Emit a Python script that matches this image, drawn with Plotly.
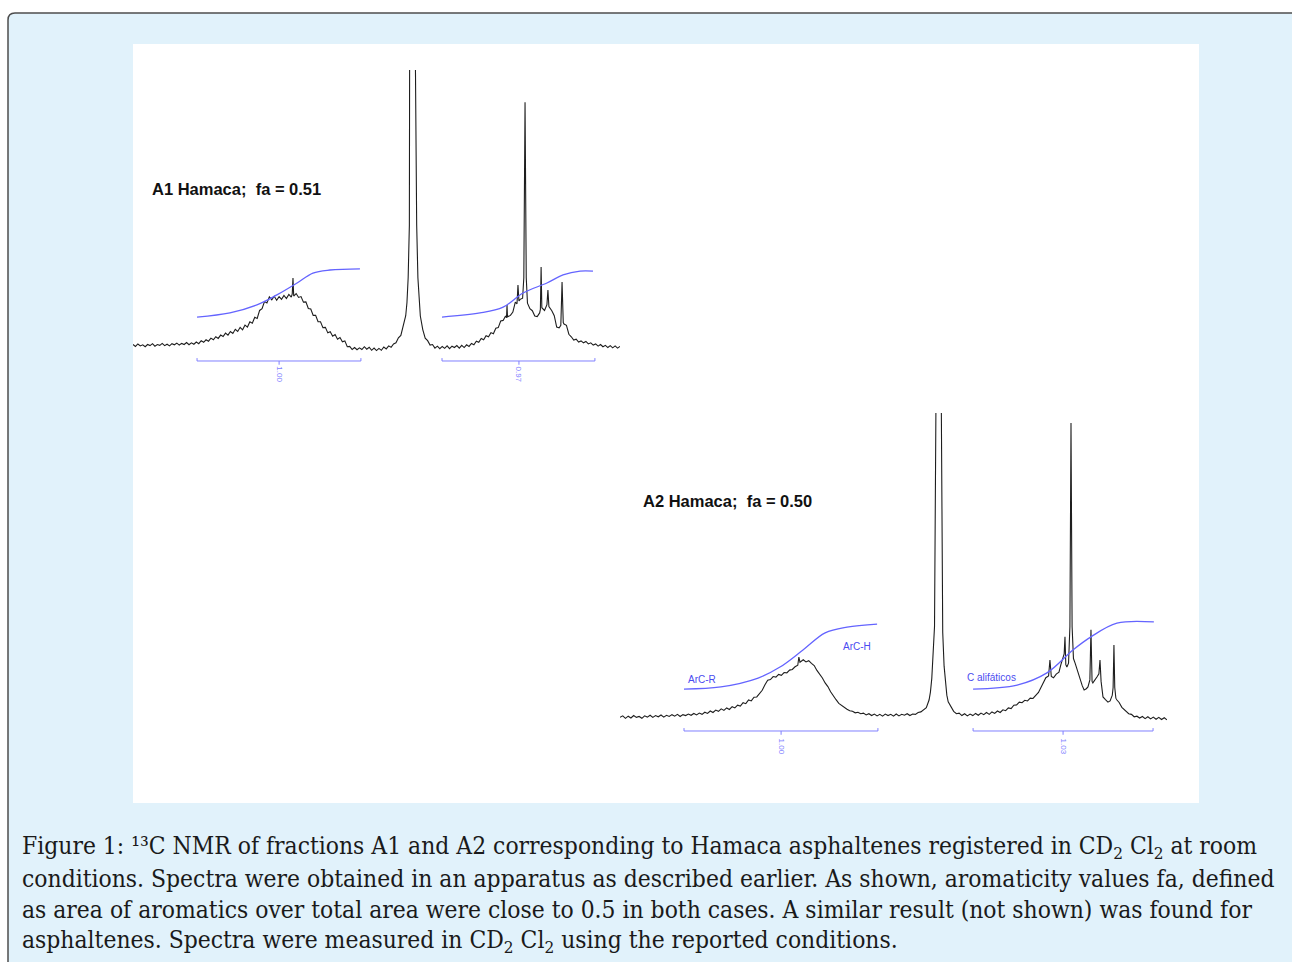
import plotly.graph_objects as go

# the page margin is removed in the page script, so the figure covers the whole 1292x962 window
W, H = 1292, 962
OX, OY = 0, 0


def fx(px):
    return (px - OX) / W


def fy(py):
    return 1 - (py - OY) / H


# ---------------- data ----------------
# Spectrum A1 (chemical shift in ppm, intensity in arbitrary units)
A1_ppm = [200, 199, 198, 197, 196, 195, 194, 193, 192, 191, 190, 189, 188, 187, 186, 185, 184, 183, 182, 181,
          180, 179, 178, 177, 176, 175, 174, 173, 172, 171, 170, 169, 168, 167, 166, 165, 164, 163, 162, 161,
          160, 159, 158, 157, 156, 155, 154, 153, 152, 151, 150, 149, 148, 147, 146, 145, 144, 143, 142, 141,
          140, 139, 138, 137, 136, 135, 134.6, 134.3, 134.0, 133, 132, 131, 130, 129, 128, 127, 126, 125, 124,
          123, 122, 121, 120, 119, 118, 117, 116, 115, 114, 113, 112, 111, 110, 109, 108, 107, 106, 105, 104,
          103, 102, 101, 100, 99, 98, 97, 96, 95, 94, 93, 92, 91, 90, 89, 88, 87.5, 87, 86.5, 86, 85.5, 85,
          84.5, 84, 83.5, 83, 82.5, 82, 81, 80, 79, 78, 77, 76, 75, 74, 73, 72, 71, 70, 69, 68, 67, 66, 65,
          64, 63, 62, 61, 60, 59, 58, 57, 56, 55, 54, 53, 52, 51, 50, 49, 48, 47, 46.6, 46.4, 46.2, 45, 44,
          43, 42.3, 41.9, 41.5, 41, 40, 39.5, 39.0, 38.5, 38, 37, 36, 35, 34, 33, 32.7, 32.4, 32.1, 31, 30,
          29.6, 29.2, 28, 27, 26, 25, 24.3, 23.8, 23.3, 23, 22, 21, 20, 19, 18, 17, 16, 15, 14, 13, 12, 11,
          10, 9, 8, 7, 6, 5, 4, 3, 2, 1, 0]
A1_int = [0.9, 0.2, 1.1, 0.4, 0.8, 0.1, 0.9, 0.5, 1.2, 0.3, 0.9, 0.6, 1.3, 0.5, 1.0, 0.4, 1.2, 0.8, 1.4, 0.7,
          1.3, 0.9, 1.6, 0.8, 1.5, 1.0, 1.8, 1.2, 2.3, 1.7, 2.6, 2.1, 3.2, 2.6, 3.7, 3.1, 4.3, 3.8, 5.0, 4.3,
          5.6, 4.9, 6.4, 5.6, 7.1, 6.2, 7.9, 7.2, 9.1, 8.6, 10.7, 10.3, 13.2, 13.8, 16.4, 15.9, 18.1, 17.0, 18.3, 16.9,
          18.2, 17.2, 18.6, 17.5, 19.0, 18.0, 19.2, 24.9, 18.4, 19.3, 17.9, 18.2, 16.2, 16.3, 13.9, 13.7, 11.4, 11.4, 9.1,
          9.1, 7.0, 7.1, 5.1, 5.5, 3.9, 4.5, 2.8, 3.4, 1.9, 2.2, 0.1, 0.2, -0.9, -0.2, -1.0, -0.3, -0.9, 0.1, -0.8,
          -0.1, -1.2, -0.4, -1.3, -0.5, -1.2, 0.0, -0.7, 0.4, -0.1, 1.1, 1.5, 3.3, 4.2, 7.6, 11.3, 16, 25, 44, 100, 400, 900,
          400, 100, 44, 25, 16, 11.2, 6.3, 3.2, 2.3, 0.7, 0.9, -0.4, 0.3, -0.6, 0.2, -0.5, 0.4, -0.6, 0.3, -0.2, 0.5, -0.4, 0.6,
          -0.2, 0.8, 0.2, 1.3, 0.8, 2.1, 1.7, 3.1, 2.6, 4.1, 3.7, 5.2, 4.8, 6.8, 7.0, 9.4, 9.6, 11.2, 10.6, 15.2, 10.9, 11.4, 12.6,
          16.2, 15.6, 22.4, 16.6, 17.2, 17.6, 25, 88.4, 25, 15.8, 13.8, 13.1, 11.2, 11.0, 12.3, 13.6, 28.9, 14.2, 13.2, 15.3,
          20.6, 14.6, 13.1, 11.3, 7.2, 6.9, 7.8, 23.5, 8.8, 8.3, 7.8, 4.6, 3.7, 2.5, 2.8, 1.8, 2.2, 1.5, 2.0, 1.1, 1.5, 0.7,
          1.1, 0.3, 0.9, 0.1, 0.6, -0.2, 0.5, -0.3, 0.4, -0.4, 0.2]

# Spectrum A2
A2_ppm = [200, 199, 198, 197, 196, 195, 194, 193, 192, 191, 190, 189, 188, 187, 186, 185, 184, 183, 182, 181,
          180, 179, 178, 177, 176, 175, 174, 173, 172, 171, 170, 169, 168, 167, 166, 165, 164, 163, 162, 161,
          160, 159, 158, 157, 156, 155, 154, 153, 152, 151, 150, 149, 148, 147, 146, 145, 144, 143, 142, 141,
          140, 139, 138, 137, 136, 135.0, 134.6, 134.2, 133, 132, 131, 130, 129, 128, 127, 126, 125, 124, 123,
          122, 121, 120, 119, 118, 117, 116, 115, 114, 113, 112, 111, 110, 109, 108, 107, 106, 105, 104, 103,
          102, 101, 100, 99, 98, 97, 96, 95, 94, 93, 92, 91, 90, 89, 88, 87, 86.5, 86, 85.5, 85, 84.5, 84, 83.5,
          83, 82.5, 82, 81.5, 81, 80.5, 80, 79, 78, 77, 76, 75, 74, 73, 72, 71, 70, 69, 68, 67, 66, 65, 64, 63,
          62, 61, 60, 59, 58, 57, 56, 55, 54, 53, 52, 51, 50, 49, 48, 47, 46, 45, 44.3, 43.3, 42.8, 42.3, 41.5,
          40.5, 39.5, 38.8, 38.0, 37.6, 37.3, 37.0, 36.6, 36.0, 35.5, 35.1, 34.7, 34.2, 33.6, 33, 32, 31, 30.3,
          29.5, 28.9, 28.2, 27.8, 27.4, 27.1, 26.5, 26, 25.5, 24.9, 24.5, 24.1, 23.4, 22.5, 21.6, 20.8, 20, 19.7,
          19.4, 19.1, 18.7, 18.3, 17.5, 16.5, 15.4, 14, 13, 12, 11, 10, 9, 8, 7, 6, 5, 4, 3, 2, 1, 0]
A2_int = [0.2, 0.7, -0.1, 0.6, 0.0, 0.8, 0.2, 0.5, -0.1, 0.7, 0.3, 0.9, 0.2, 0.8, 0.4, 1.0, 0.3, 0.9, 0.5, 1.1,
          0.6, 1.2, 0.5, 1.1, 0.8, 1.3, 0.9, 1.5, 1.0, 1.6, 1.2, 1.9, 1.5, 2.3, 1.8, 2.6, 2.2, 3.0, 2.5, 3.3,
          2.8, 3.7, 3.3, 4.2, 3.9, 5.0, 4.7, 5.9, 5.6, 6.8, 6.9, 8.0, 9.1, 10.9, 12.4, 12.6, 13.6, 13.4, 14.3, 14.0,
          14.9, 14.8, 15.7, 15.9, 16.8, 17.3, 20.0, 18.3, 19.1, 18.4, 18.8, 17.9, 17.2, 15.6, 14.4, 13.1, 11.5, 10.3, 8.6,
          7.1, 6.0, 4.8, 4.1, 3.3, 2.9, 2.4, 2.2, 1.7, 1.9, 1.4, 1.6, 1.0, 1.4, 0.8, 1.3, 0.7, 1.2, 0.6, 1.3,
          0.8, 1.2, 0.6, 1.3, 0.7, 1.2, 0.9, 1.4, 0.8, 1.3, 1.2, 1.8, 2.0, 2.6, 3.4, 5.9, 8.5, 13, 20, 30, 100, 300, 900,
          300, 100, 28, 17, 11, 7.5, 5.3, 3.6, 2.2, 1.4, 1.6, 0.8, 1.4, 0.7, 1.3, 0.8, 1.5, 0.9, 1.6, 1.1, 1.8, 1.2, 2.0, 1.5,
          2.3, 1.8, 2.7, 2.4, 3.3, 3.1, 4.2, 4.3, 5.2, 5.0, 5.8, 5.6, 6.5, 6.4, 7.3, 8.4, 10.2, 11.8, 13.2, 13.8, 19.0, 13.6, 13.2,
          14.4, 15.0, 17.5, 20.0, 21.0, 26.6, 17.5, 16.7, 18.0, 30, 96.7, 30, 19.5, 18.0, 16.2, 13.6, 10.6, 9.2,
          9.6, 10.2, 12.5, 28.9, 12.0, 11.5, 12.2, 13.0, 13.6, 14.5, 19.0, 12, 6.9, 6.0, 5.2, 5.6, 7.5, 10,
          23.9, 10, 6.5, 5.9, 5.1, 3.5, 2.6, 1.4, 1.2, 0.4, 0.6, 0.0, 0.5, -0.2, 0.4, -0.3, 0.3, -0.4, 0.2, -0.5, 0.1, -0.6]

# Integral curves
A1_arom_int_ppm = [173.7, 160.2, 149.1, 140.9, 132.6, 126.1, 119.1, 106.8]
A1_arom_int_val = [10.8, 12.3, 15.2, 18.8, 23.1, 26.7, 27.8, 28.2]
A1_ali_int_ppm = [73.1, 57.5, 48.0, 39.8, 30.0, 23.4, 16.4, 11.1]
A1_ali_int_val = [10.8, 12.3, 14.4, 19.5, 23.1, 26.0, 27.4, 27.4]
A2_arom_int_ppm = [176.6, 163.1, 149.5, 141.5, 133.1, 125.0, 117.0, 106.0]
A2_arom_int_val = [9.5, 10.2, 13.1, 16.7, 22.3, 27.9, 29.8, 30.8]
A2_ali_int_ppm = [70.9, 54.8, 43.9, 34.4, 27.8, 18.3, 4.8]
A2_ali_int_val = [9.5, 10.8, 14.8, 22.3, 26.6, 31.1, 31.5]

# Integration ranges (start ppm, end ppm, centre ppm) and integral values
A1_ranges = [(173.7, 106.4, 140.0), (73.1, 10.3, 41.5)]
A1_values = ["1.00", "0.97"]
A2_ranges = [(176.6, 105.7, 141.1), (70.9, 5.1, 38.0)]
A2_values = ["1.00", "1.03"]

A1_title = "A1 Hamaca;\u00a0 fa = 0.51"
A2_title = "A2 Hamaca;\u00a0 fa = 0.50"
A2_labels = ["ArC-R", "ArC-H", "C alifáticos"]
A2_label_ppm = [170.0, 113.3, 64.0]
A2_label_int = [12.5, 23.6, 13.4]

caption_lines = [
    "Figure 1: \u00b9\u00b3C NMR of fractions A1 and A2 corresponding to Hamaca asphaltenes registered in CD<sub>2</sub> Cl<sub>2</sub> at room",
    "conditions. Spectra were obtained in an apparatus as described earlier. As shown, aromaticity values fa, defined",
    "as area of aromatics over total area were close to 0.5 in both cases. A similar result (not shown) was found for",
    "asphaltenes. Spectra were measured in CD<sub>2</sub> Cl<sub>2</sub> using the reported conditions.",
]

# ---------------- figure ----------------
SPEC = "#1e1e1e"
INTEG = "#6464ff"
BRACK = "#8080ff"

fig = go.Figure()


def add_spectrum(ppm, inten, xa, ya):
    fig.add_trace(go.Scatter(x=ppm, y=inten, mode="lines", xaxis=xa, yaxis=ya,
                             line=dict(color=SPEC, width=1.1), hoverinfo="skip", showlegend=False))


def add_integral(ppm, val, xa, ya):
    fig.add_trace(go.Scatter(x=ppm, y=val, mode="lines", xaxis=xa, yaxis=ya,
                             line=dict(color=INTEG, width=1.3, shape="spline", smoothing=1.0),
                             hoverinfo="skip", showlegend=False))


def add_brackets(ranges, values, xa, ya, level, hook, tick, lab):
    for (a, b, c), v in zip(ranges, values):
        fig.add_trace(go.Scatter(x=[a, a, b, b], y=[hook, level, level, hook], mode="lines",
                                 xaxis=xa, yaxis=ya, line=dict(color=BRACK, width=1),
                                 hoverinfo="skip", showlegend=False))
        fig.add_trace(go.Scatter(x=[c, c], y=[level, tick], mode="lines",
                                 xaxis=xa, yaxis=ya, line=dict(color=BRACK, width=1),
                                 hoverinfo="skip", showlegend=False))
        fig.add_annotation(x=c, y=lab, xref=xa, yref=ya, text=v, showarrow=False, textangle=90,
                           font=dict(family="Arial, Liberation Sans", size=8, color=BRACK))


add_spectrum(A1_ppm, A1_int, "x", "y")
add_integral(A1_arom_int_ppm, A1_arom_int_val, "x", "y")
add_integral(A1_ali_int_ppm, A1_ali_int_val, "x", "y")
add_brackets(A1_ranges, A1_values, "x", "y", -5.05, -4.0, -6.4, -9.9)

add_spectrum(A2_ppm, A2_int, "x2", "y2")
add_integral(A2_arom_int_ppm, A2_arom_int_val, "x2", "y2")
add_integral(A2_ali_int_ppm, A2_ali_int_val, "x2", "y2")
add_brackets(A2_ranges, A2_values, "x2", "y2", -4.26, -3.3, -5.5, -9.4)

TITLE_FONT = dict(family="Arial, Liberation Sans", size=16.5, color="#111", weight="bold")
fig.add_annotation(x=193.0, y=57.0, xref="x", yref="y", text=A1_title, showarrow=False,
                   xanchor="left", font=TITLE_FONT)
fig.add_annotation(x=192.3, y=71.1, xref="x2", yref="y2", text=A2_title, showarrow=False,
                   xanchor="left", font=TITLE_FONT)
for t, px, py in zip(A2_labels, A2_label_ppm, A2_label_int):
    fig.add_annotation(x=px, y=py, xref="x2", yref="y2", text=t, showarrow=False,
                       font=dict(family="Arial, Liberation Sans", size=10, color="#4b4bf0"))

for i, line in enumerate(caption_lines):
    fig.add_annotation(x=fx(20), y=fy(847 + 31.3 * i), xref="paper", yref="paper",
                       text=line, showarrow=False, xanchor="left", yanchor="middle",
                       font=dict(family="DejaVu Serif Condensed, Liberation Serif, serif", size=24.4,
                                 color="#1a1a1a"))

# background panel and white picture area
x0, yt, rx, ry = fx(8), fy(13), 7 / W, 7 / H
fig.add_shape(type="path", xref="paper", yref="paper", layer="below",
              path=f"M {x0},-0.05 L {x0},{yt - ry} Q {x0},{yt} {x0 + rx},{yt} L 1.05,{yt} L 1.05,-0.05 Z",
              fillcolor="#e1f2fb", line=dict(color="#4d4d4d", width=1.5))
fig.add_shape(type="rect", xref="paper", yref="paper", layer="below",
              x0=fx(133), x1=fx(1199), y0=fy(803), y1=fy(44),
              fillcolor="white", line=dict(width=0))

ax = dict(visible=False, showgrid=False, zeroline=False, fixedrange=True)
fig.update_layout(
    width=W, height=H, margin=dict(l=0, r=0, t=0, b=0),
    paper_bgcolor="white", plot_bgcolor="rgba(0,0,0,0)", showlegend=False,
    xaxis=dict(domain=[fx(133), fx(620)], range=[200, 0], anchor="y", **ax),
    yaxis=dict(domain=[fy(388.55), fy(70)], range=[-15, 100], anchor="x", **ax),
    xaxis2=dict(domain=[fx(620), fx(1167)], range=[200, 0], anchor="y2", **ax),
    yaxis2=dict(domain=[fy(763.75), fy(413)], range=[-15, 100], anchor="x2", **ax),
)

fig.write_html("out.html",
               config={"displayModeBar": False, "staticPlot": True},
               post_script="document.body.style.margin='0px';"
                           "document.documentElement.style.overflow='hidden';"
                           "document.body.style.overflow='hidden';")
